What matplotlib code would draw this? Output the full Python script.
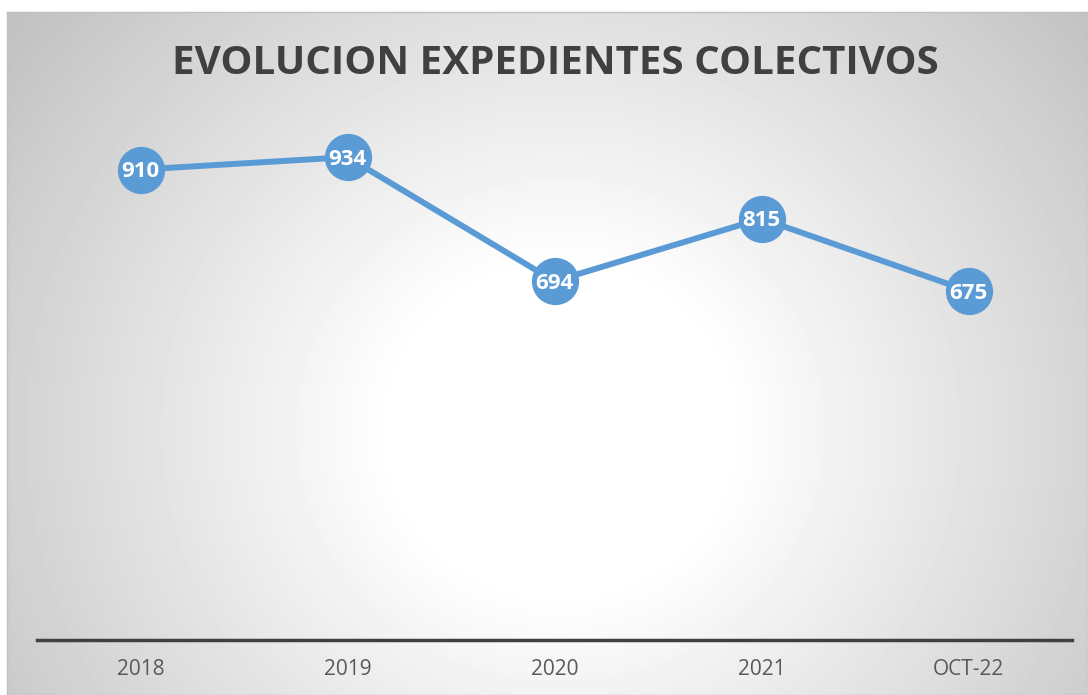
import matplotlib.pyplot as plt
import numpy as np

# Data
categorias = ['2018', '2019', '2020', '2021', 'OCT-22']
expedientes = [910, 934, 694, 815, 675]

W, H = 1088, 695
fig = plt.figure(figsize=(W / 100, H / 100), dpi=100)
fig.patch.set_facecolor('white')

# Background with radial gradient (chart area)
bg = fig.add_axes([7 / W, 0, 1 - 7 / W, 1 - 12 / H])
bg.set_zorder(0)
yy, xx = np.mgrid[12:H, 7:W]
d = np.hypot(xx - 560, (yy - 430) * 1.05)
t = np.clip((d - 170) / 520, 0, 1)
gris = 1 - 0.24 * t
bg.imshow(gris, cmap='gray', vmin=0, vmax=1, aspect='auto', interpolation='bilinear')
bg.set_xticks([])
bg.set_yticks([])
for s in bg.spines.values():
    s.set_color('#bfbfbf')
    s.set_linewidth(1)

# Main axes
ax = fig.add_axes([37 / W, 1 - 640 / H, (1072 - 37) / W, (640 - 123) / H])
ax.set_zorder(1)
ax.patch.set_alpha(0)
x = np.arange(len(categorias))
ax.plot(x, expedientes, color='#5B9BD5', linewidth=4.3, marker='o',
        markersize=33, solid_capstyle='round')
for xi, v in zip(x, expedientes):
    ax.text(xi, v - 4, str(v), color='white', fontsize=16, fontweight='bold',
            ha='center', va='center', family='Open Sans')

ax.set_xlim(-0.5, len(categorias) - 0.5)
ax.set_ylim(0, 1000)
ax.set_yticks([])
ax.set_xticks(x)
ax.set_xticklabels(categorias, fontsize=15, color='#595959', family='Open Sans')
ax.tick_params(axis='x', length=0, pad=14)
for lado in ['top', 'right', 'left']:
    ax.spines[lado].set_visible(False)
ax.spines['bottom'].set_color('#404040')
ax.spines['bottom'].set_linewidth(2.5)

fig.text(555 / W, 1 - 64 / H, 'EVOLUCION EXPEDIENTES COLECTIVOS',
         fontsize=29, fontweight='bold', color='#404040',
         ha='center', va='center', family='Open Sans')

fig.savefig('out.png', dpi=100)
